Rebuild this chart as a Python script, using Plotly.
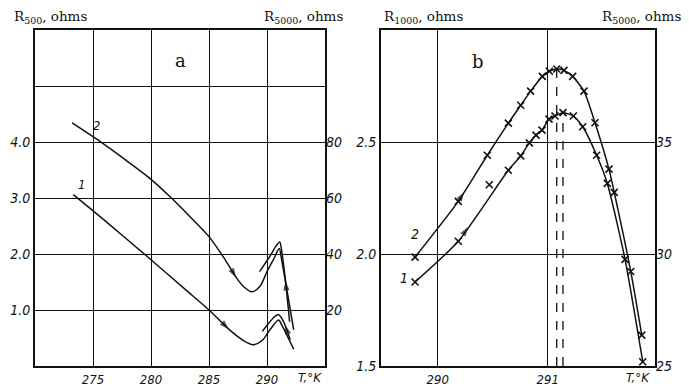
import plotly.graph_objects as go

# ---------------- data ----------------
# Panel a: curve 1 (R500, left axis), curve 2 (R5000, right axis)
T1_main = [273.3, 276.0, 279.7, 283.0, 285.0, 286.8, 288.0, 288.8, 289.6, 290.3, 291.0, 291.3, 292.3]
R1_main = [3.06, 2.60, 1.95, 1.36, 1.00, 0.64, 0.45, 0.38, 0.46, 0.66, 0.82, 0.72, 0.30]
T1_back = [292.0, 291.5, 291.15, 290.95, 290.6, 290.1, 289.6]
R1_back = [0.47, 0.76, 0.89, 0.92, 0.87, 0.75, 0.62]

T2_main = [273.2, 275.6, 277.8, 279.9, 281.6, 283.3, 285.0, 286.4, 287.4, 288.0, 288.7, 289.4, 290.0, 290.6, 291.05, 291.3, 292.3]
R2_main = [86.8, 80.2, 73.6, 67.0, 60.6, 53.6, 46.2, 37.9, 31.3, 28.3, 26.5, 28.5, 33.7, 38.4, 42.0, 37.0, 12.9]
T2_back = [291.95, 291.55, 291.25, 291.1, 290.8, 290.3, 289.36]
R2_back = [15.8, 32.0, 41.5, 44.3, 43.0, 39.5, 33.7]

# Panel b: curve 1 (R1000, left axis), curve 2 (R5000, right axis)
Tb1 = [289.794, 290.187, 290.642, 290.755, 290.833, 290.894, 290.948, 291.012, 291.066, 291.139,
       291.233, 291.318, 291.445, 291.542, 291.703, 291.864]
Rb1 = [1.875, 2.057, 2.374, 2.438, 2.496, 2.531, 2.553, 2.602, 2.616, 2.631,
       2.616, 2.568, 2.441, 2.315, 1.976, 1.519]
Tb1_off = [290.469]
Rb1_off = [2.309]

Tb2 = [289.794, 290.187, 290.451, 290.642, 290.755, 290.845, 290.951, 291.015, 291.082, 291.148,
       291.227, 291.330, 291.430, 291.557, 291.605, 291.755, 291.855]
Rb2 = [29.86, 32.35, 34.41, 35.84, 36.64, 37.27, 37.93, 38.16, 38.26, 38.20,
       37.93, 37.27, 35.86, 33.79, 32.75, 29.22, 26.38]

xa_ticks = [275, 280, 285, 290]
ya_ticks = [1, 2, 3, 4, 5]
ya_text = ["1.0", "2.0", "3.0", "4.0", ""]
ya2_ticks = [20, 40, 60, 80]
xb_ticks = [290, 291]
yb_ticks = [1.5, 2.0, 2.5]
yb_text = ["1.5", "2.0", "2.5"]
yb2_ticks = [25, 30, 35]

# ---------------- figure ----------------
PAGE = 8                      # default body margin of the html page
W, H = 689 - PAGE, 386 - PAGE
BLACK = "#111111"
SANS_I = "DejaVu Sans Condensed, DejaVu Sans"
TICKFONT = dict(family=SANS_I, size=14, color=BLACK, style="italic")
XTICKFONT = dict(family=SANS_I, size=13, color=BLACK, style="italic")
SERIF = "DejaVu Serif, Liberation Serif, serif"

def fx(p):
    return (p - PAGE) / W

def fy(p):
    return 1 - (p - PAGE) / H

dom_y = [fy(366), fy(30)]
dom_a = [fx(35), fx(325)]
dom_b = [fx(381), fx(655)]

line = dict(color=BLACK, width=1.5)
fig = go.Figure()

# panel a curves
fig.add_trace(go.Scatter(x=T1_main, y=R1_main, mode="lines", line=dict(shape="spline", smoothing=0.8, **line), xaxis="x", yaxis="y"))
fig.add_trace(go.Scatter(x=T1_back, y=R1_back, mode="lines", line=dict(shape="spline", smoothing=0.8, **line), xaxis="x", yaxis="y"))
fig.add_trace(go.Scatter(x=T2_main, y=R2_main, mode="lines", line=dict(shape="spline", smoothing=0.8, **line), xaxis="x", yaxis="y2"))
fig.add_trace(go.Scatter(x=T2_back, y=R2_back, mode="lines", line=dict(shape="spline", smoothing=0.8, **line), xaxis="x", yaxis="y2"))

# panel b curves
mk = dict(symbol="x-thin", size=7, line=dict(width=1.6, color=BLACK), color=BLACK)
fig.add_trace(go.Scatter(x=Tb1, y=Rb1, mode="lines+markers", line=dict(shape="spline", smoothing=0.6, **line), marker=mk, xaxis="x2", yaxis="y3"))
fig.add_trace(go.Scatter(x=Tb1_off, y=Rb1_off, mode="markers", marker=mk, xaxis="x2", yaxis="y3"))
fig.add_trace(go.Scatter(x=Tb2, y=Rb2, mode="lines+markers", line=dict(shape="spline", smoothing=0.6, **line), marker=mk, xaxis="x2", yaxis="y4"))

# dashed verticals at the maxima of panel b curves
for xs, ys, yr, ybot in [(Tb2, Rb2, "y4", 25), (Tb1, Rb1, "y3", 1.5)]:
    i = ys.index(max(ys))
    fig.add_shape(type="line", xref="x2", yref=yr, x0=xs[i], x1=xs[i], y0=ybot, y1=ys[i],
                  line=dict(color=BLACK, width=1.3, dash="dash"))

# direction arrowheads, oriented along the curve segment they sit on
def arrow(xs, ys, i, f, xa, ya):
    hx = xs[i] + f * (xs[i + 1] - xs[i])
    hy = ys[i] + f * (ys[i + 1] - ys[i])
    tx = xs[i] + (f - 0.3) * (xs[i + 1] - xs[i])
    ty = ys[i] + (f - 0.3) * (ys[i + 1] - ys[i])
    fig.add_trace(go.Scatter(x=[tx, hx], y=[ty, hy], mode="markers", xaxis=xa, yaxis=ya,
                             marker=dict(symbol=["circle", "arrow"], size=[0, 10], angleref="previous",
                                         color=BLACK, line=dict(width=0)),
                             hoverinfo="skip"))

arrow(T1_main, R1_main, 4, 0.95, "x", "y")
arrow(T2_main, R2_main, 7, 0.95, "x", "y2")
arrow(T1_back, R1_back, 0, 0.9, "x", "y")
arrow(T2_back, R2_back, 0, 0.9, "x", "y2")
arrow(Tb2, Rb2, 1, 0.2, "x2", "y4")
arrow(Tb1, Rb1, 1, 0.2, "x2", "y3")

annotations = []

def text(s, x, y, size=13.5, family=SERIF, style="normal", xanchor="left", weight="normal"):
    annotations.append(dict(text=s, x=fx(x), y=fy(y), xref="paper", yref="paper", showarrow=False,
                            xanchor=xanchor, yanchor="middle",
                            font=dict(family=family, size=size, color=BLACK, style=style, weight=weight)))

text("R<sub>500</sub>, ohms", 12, 17)
text("R<sub>5000</sub>, ohms", 262, 17)
text("R<sub>1000</sub>, ohms", 382, 17)
text("R<sub>5000</sub>, ohms", 600, 17)
text("a", 181, 60, size=18, xanchor="center")
text("b", 478, 61, size=18, xanchor="center")
text("2", 97, 126, size=13, family=SANS_I, style="italic", xanchor="center")
text("1", 81, 184, size=13, family=SANS_I, style="italic", xanchor="center")
text("2", 415, 234, size=14, family=SANS_I, style="italic", xanchor="center")
text("1", 404, 278, size=14, family=SANS_I, style="italic", xanchor="center")
text("T,°K", 310, 377, size=13, family=SANS_I, style="italic", xanchor="center")
text("T,°K", 638, 377, size=13, family=SANS_I, style="italic", xanchor="center")

ax_common = dict(showline=True, linecolor=BLACK, linewidth=1.8, mirror=True, zeroline=False,
                 showgrid=True, gridcolor=BLACK, gridwidth=1, ticks="",
                 automargin=False, fixedrange=True)

fig.update_layout(
    width=W, height=H, margin=dict(l=0, r=0, t=0, b=0),
    paper_bgcolor="white", plot_bgcolor="white", showlegend=False,
    xaxis=dict(domain=dom_a, range=[270, 295], tickvals=xa_ticks, anchor="y", tickfont=XTICKFONT, **ax_common),
    yaxis=dict(domain=dom_y, range=[0, 6], tickvals=ya_ticks, ticktext=ya_text, anchor="x", tickfont=TICKFONT, **ax_common),
    yaxis2=dict(overlaying="y", side="right", range=[0, 120], tickvals=ya2_ticks, anchor="x",
                showgrid=False, zeroline=False, showline=False, ticks="", tickfont=TICKFONT, automargin=False),
    xaxis2=dict(domain=dom_b, range=[289.4845, 291.9755], tickvals=xb_ticks, anchor="y3", tickfont=XTICKFONT, **ax_common),
    yaxis3=dict(domain=dom_y, range=[1.5, 3.0], tickvals=yb_ticks, ticktext=yb_text, anchor="x2", tickfont=TICKFONT, **ax_common),
    yaxis4=dict(overlaying="y3", side="right", range=[25, 40], tickvals=yb2_ticks, anchor="x2",
                showgrid=False, zeroline=False, showline=False, ticks="", tickfont=TICKFONT, automargin=False),
    annotations=annotations,
)

fig.write_html("out.html")
